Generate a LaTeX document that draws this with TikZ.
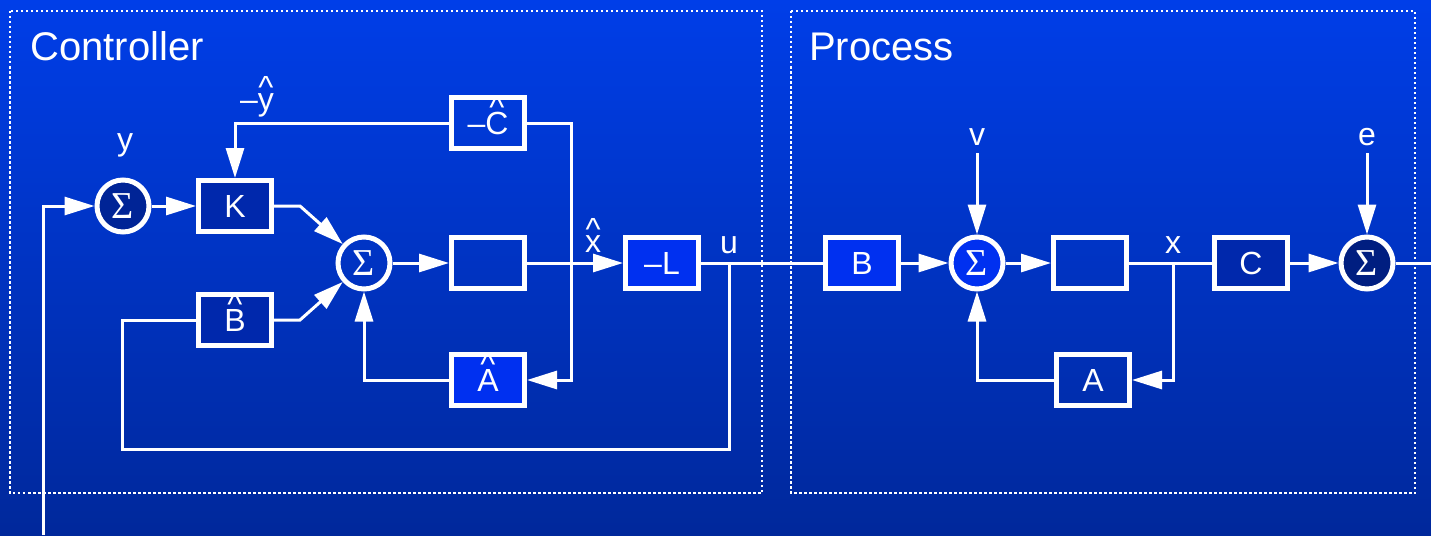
\documentclass[tikz,border=0pt]{standalone}
\usepackage{fontspec}
\setmainfont{Liberation Sans}
\newfontfamily\sigfont{Liberation Serif}
\usetikzlibrary{arrows.meta}
\definecolor{bgtop}{RGB}{0,62,232}
\definecolor{bgbot}{RGB}{0,40,155}
\definecolor{fdark}{RGB}{0,40,172}
\definecolor{fdarker}{RGB}{0,36,150}
\definecolor{fdarkest}{RGB}{0,30,128}
\definecolor{fbright}{RGB}{0,48,240}
\definecolor{fmid}{RGB}{0,52,214}
\newcommand\hatof[2]{\ooalign{#2\cr\hidewidth\raisebox{#1}{\textasciicircum}\hidewidth\cr}}
\newcommand\sig{{\sigfont\fontsize{38}{38}\selectfont Σ}}
\tikzset{
  blk/.style={draw=white, line width=5pt, minimum width=73pt, minimum height=51pt, inner sep=0pt, text=white, font=\fontsize{32}{32}\selectfont},
  sumn/.style={circle, draw=white, line width=5pt, minimum size=52pt, inner sep=0pt, text=white},
  wire/.style={draw=white, line width=3pt},
  arr/.style={wire, -{Triangle[length=30pt,width=18pt]}},
  lbl/.style={text=white, font=\fontsize{32}{32}\selectfont, inner sep=0pt, anchor=base},
  ttl/.style={text=white, font=\fontsize{40}{40}\selectfont, inner sep=0pt, anchor=base west},
  frame/.style={draw=white, line width=2.5pt, dash pattern=on 2.5pt off 2.5pt}
}
\begin{document}
\begin{tikzpicture}[x=1pt,y=-1pt]
\useasboundingbox (0,0) rectangle (1431,535);
\shade[top color=bgtop,bottom color=bgbot] (0,0) rectangle (1431,535);
\draw[frame] (10,11) rectangle (762,493);
\draw[frame] (791,11) rectangle (1415,493);
\node[ttl] (tc) at (30,60) {Controller};
\node[ttl] (tp) at (809,60) {Process};

% controller
\node[sumn, fill=fdarker] (s1) at (123,206) {\sig};
\node[blk, fill=fdark] (K) at (235,206) {K};
\node[sumn] (s2) at (364,263) {\sig};
\node[blk, fill=fdark] (Bh) at (235,320) {\hatof{0.5em}{B}};
\node[blk] (Ch) at (488,123) {–\hatof{0.5em}{C}};
\node[blk] (I1) at (488,263) {};
\node[blk, fill=fbright] (Ah) at (488,380) {\hatof{0.5em}{A}};
\node[blk, fill=fbright] (L) at (662,263) {–L};

% process
\node[blk, fill=fbright] (B) at (862,263) {B};
\node[sumn, fill=fbright] (s3) at (977,263) {\sig};
\node[blk] (I2) at (1090,263) {};
\node[blk] (A) at (1093,380) {A};
\node[blk, fill=fdark] (C) at (1251,263) {C};
\node[sumn, fill=fdarkest] (s4) at (1367,263) {\sig};

% labels
\node[lbl] (ly) at (125,150) {y};
\node[lbl] (lyh) at (257,110) {–\hatof{0.36em}{y}};
\node[lbl] (lxh) at (593,252) {\hatof{0.36em}{x}};
\node[lbl] (lu) at (729,253) {u};
\node[lbl] (lx) at (1173,253) {x};
\node[lbl] (lv) at (977,145) {v};
\node[lbl] (le) at (1367,145) {e};

% coordinates
\coordinate (yin) at (43,535);
\coordinate (k1) at (300,206);
\coordinate (b1) at (300,320);
\coordinate (jx) at (571,263);
\coordinate (ju) at (729,263);
\coordinate (bl) at (122,449);
\coordinate (vin) at (977,153);
\coordinate (ein) at (1367,153);
\coordinate (jx2) at (1173,263);
\coordinate (out) at (1431,263);

% controller wires
\draw[arr] (yin) |- (s1.west);
\draw[arr] (s1.east) -- (K.west);
\draw[arr] (K.east) -- (k1) -- (s2);
\draw[arr] (Bh.east) -- (b1) -- (s2);
\draw[arr] (s2.east) -- (I1.west);
\draw[arr] (I1.east) -- (L.west);
\draw[wire] (Ch.east) -| (jx);
\draw[arr] (jx) |- (Ah.east);
\draw[arr] (Ch.west) -| (K.north);
\draw[arr] (Ah.west) -| (s2.south);
\draw[wire] (L.east) -- (B.west);
\draw[wire] (ju) |- (bl) |- (Bh.west);

% process wires
\draw[arr] (B.east) -- (s3.west);
\draw[arr] (vin) -- (s3.north);
\draw[arr] (s3.east) -- (I2.west);
\draw[wire] (I2.east) -- (C.west);
\draw[arr] (jx2) |- (A.east);
\draw[arr] (A.west) -| (s3.south);
\draw[arr] (C.east) -- (s4.west);
\draw[arr] (ein) -- (s4.north);
\draw[wire] (s4.east) -- (out);
\end{tikzpicture}
\end{document}
